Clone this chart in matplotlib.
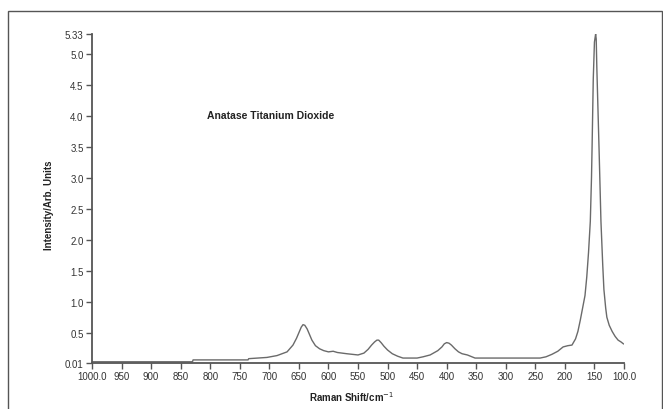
import matplotlib.pyplot as plt
from matplotlib.patches import Rectangle

# spectrum (Raman shift in cm-1, intensity in arb. units)
shift = [1000, 830, 829, 736, 735, 704, 687, 670, 660, 654, 650, 646, 643, 640, 636,
         632, 628, 622, 615, 608, 600, 592, 585, 569, 550, 540, 533, 527, 522, 518,
         515, 511, 506, 500, 492, 483, 474, 450, 440, 428, 415, 408, 404, 400, 396,
         392, 386, 380, 374, 365, 352, 300, 242, 232, 222, 212, 203, 195, 188, 182,
         178, 174, 170, 166, 163, 160, 157, 155, 154, 152, 150, 148, 147, 146, 144,
         142, 139, 136, 134, 131, 129, 125, 120, 115, 110, 105, 101]
intensity = [0.03, 0.03, 0.06, 0.06, 0.08, 0.10, 0.13, 0.19, 0.30, 0.41, 0.50, 0.59,
             0.63, 0.62, 0.56, 0.47, 0.38, 0.29, 0.24, 0.21, 0.19, 0.20, 0.18, 0.16,
             0.14, 0.17, 0.23, 0.30, 0.35, 0.38, 0.38, 0.34, 0.28, 0.22, 0.16, 0.12,
             0.09, 0.09, 0.11, 0.14, 0.21, 0.27, 0.32, 0.34, 0.33, 0.30, 0.24, 0.19,
             0.16, 0.14, 0.09, 0.09, 0.09, 0.11, 0.15, 0.20, 0.27, 0.29, 0.30, 0.40,
             0.52, 0.70, 0.90, 1.10, 1.40, 1.80, 2.30, 3.00, 3.50, 4.60, 5.20, 5.33,
             5.25, 4.80, 4.10, 3.40, 2.30, 1.60, 1.20, 0.90, 0.75, 0.62, 0.52, 0.44,
             0.38, 0.35, 0.32]

x_ticks = [1000, 950, 900, 850, 800, 750, 700, 650, 600, 550, 500, 450, 400, 350,
           300, 250, 200, 150, 100]
x_labels = ['1000.0', '950', '900', '850', '800', '750', '700', '650', '600', '550',
            '500', '450', '400', '350', '300', '250', '200', '150', '100.0']
y_ticks = [0.01, 0.5, 1.0, 1.5, 2.0, 2.5, 3.0, 3.5, 4.0, 4.5, 5.0, 5.33]
y_labels = ['0.01', '0.5', '1.0', '1.5', '2.0', '2.5', '3.0', '3.5', '4.0', '4.5',
            '5.0', '5.33']

plt.rcParams['font.family'] = ['Liberation Sans Narrow', 'Liberation Sans', 'DejaVu Sans']

fig = plt.figure(figsize=(6.63, 4.10), dpi=100)
ax = fig.add_axes([92 / 663, 1 - 364 / 410, (624 - 92) / 663, (364 - 35) / 410])

# outer frame around the figure
fig.patches.append(Rectangle((8 / 663, -0.1), 654 / 663, 1.1 - 12 / 410,
                             transform=fig.transFigure, fill=False,
                             edgecolor='#555555', linewidth=1.0))

ax.plot(shift, intensity, color='#6a6a6a', linewidth=1.0)

ax.set_xlim(1000, 100)
ax.set_ylim(0.01, 5.33)
ax.set_xticks(x_ticks)
ax.set_xticklabels(x_labels)
ax.set_yticks(y_ticks)
ax.set_yticklabels(y_labels)

for side in ['top', 'right']:
    ax.spines[side].set_visible(False)
for side in ['left', 'bottom']:
    ax.spines[side].set_color('#555555')
    ax.spines[side].set_linewidth(1.3)

ax.tick_params(axis='both', length=4, width=1, color='#555555',
               labelsize=7, labelcolor='#333333', pad=2)

ax.set_xlabel('Raman Shift/cm$^{-1}$', fontsize=7, fontweight='bold',
              family=['Liberation Sans', 'DejaVu Sans'], color='#222222')
ax.set_ylabel('Intensity/Arb. Units', fontsize=7, fontweight='bold',
              family=['Liberation Sans', 'DejaVu Sans'], color='#222222')
ax.xaxis.set_label_coords((352 - 92) / 532, -(26 - 0) / 329)
ax.yaxis.set_label_coords(-(92 - 54) / 532, (364 - 205) / 329)

ax.text(805, 4.02, 'Anatase Titanium Dioxide', fontsize=7.5, fontweight='bold',
        family=['Liberation Sans', 'DejaVu Sans'], color='#222222',
        ha='left', va='center')

fig.savefig('out.png', dpi=100)
